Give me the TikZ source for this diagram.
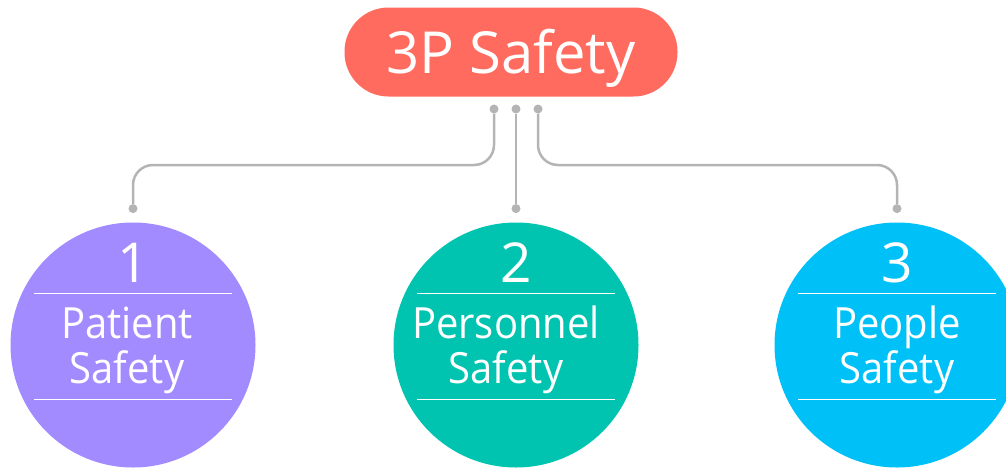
\documentclass[tikz,border=0pt]{standalone}
\usepackage{fontspec}
\setmainfont{Open Sans}
\newfontfamily\narrowfont[FakeStretch=0.93]{Open Sans}
\usetikzlibrary{positioning}
\definecolor{coral}{HTML}{FF6B5E}
\definecolor{lavender}{HTML}{A28BFF}
\definecolor{teal}{HTML}{00C4B0}
\definecolor{sky}{HTML}{00C0F8}
\definecolor{wiregray}{HTML}{B4B4B4}

\begin{document}
\begin{tikzpicture}[x=1pt,y=-1pt,
	headbox/.style={fill=coral, text=white, rounded corners=44pt, minimum width=333pt, minimum height=89pt,
		text height=42pt, text depth=0pt, font=\fontsize{58}{60}\selectfont},
	ball/.style={circle, minimum size=245pt, inner sep=0pt},
	dot/.style={circle, fill=wiregray, minimum size=9pt, inner sep=0pt},
	wire/.style={draw=wiregray, line width=2.5pt, rounded corners=20pt},
	ballnum/.style={text=white, anchor=base, font=\fontsize{55}{58}\selectfont},
	balltext/.style={text=white, anchor=base, align=center, font=\narrowfont\fontsize{43}{45}\selectfont},
	divider/.style={draw=white, line width=1pt}]
		\useasboundingbox (0,0) rectangle (1006,471);

		\draw (511,52) node[headbox] (top) {3P Safety};
		\draw (494,109) node[dot] (t1) {};
		\draw (516,109) node[dot] (t2) {};
		\draw (538,109) node[dot] (t3) {};

		\draw (133,345) node[ball, fill=lavender] (p1) {};
		\draw (516,345) node[ball, fill=teal] (p2) {};
		\draw (897,345) node[ball, fill=sky] (p3) {};

		\node[dot, above=9pt of p1] (b1) {};
		\node[dot, above=9pt of p2] (b2) {};
		\node[dot, above=9pt of p3] (b3) {};

		\draw[wire] (t1) -- ++(0,56) -| (b1);
		\draw[wire] (t2) -- (b2);
		\draw[wire] (t3) -- ++(0,56) -| (b3);

		\node[ballnum] (n1) at ([yshift=63pt]p1.center) {1};
		\node[ballnum] (n2) at ([yshift=63pt]p2.center) {2};
		\node[ballnum] (n3) at ([yshift=63pt]p3.center) {3};

		\node[balltext] (s1) at ([xshift=-6pt,yshift=-38pt]p1.center) {Patient\\Safety};
		\node[balltext] (s2) at ([xshift=-10pt,yshift=-38pt]p2.center) {Personnel\\Safety};
		\node[balltext] (s3) at ([yshift=-38pt]p3.center) {People\\Safety};

		\foreach \p in {p1,p2,p3} {
			\draw[divider] ([xshift=-99pt,yshift=52pt]\p.center) -- ([xshift=99pt,yshift=52pt]\p.center);
			\draw[divider] ([xshift=-99pt,yshift=-54pt]\p.center) -- ([xshift=99pt,yshift=-54pt]\p.center);
		}
	\end{tikzpicture}
\end{document}
